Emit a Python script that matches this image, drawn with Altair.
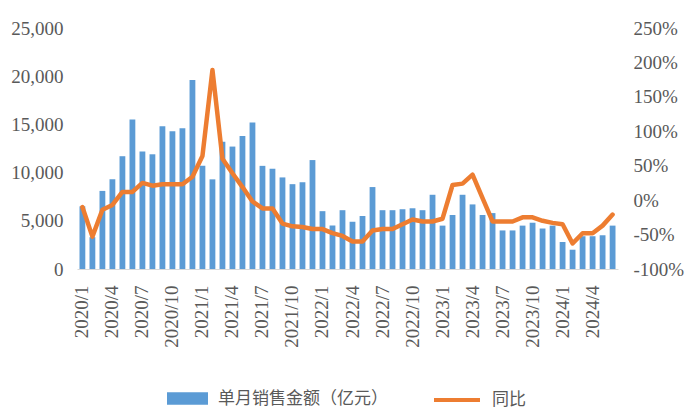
import altair as alt
import pandas as pd

months = [f"{y}/{m}" for y in range(2020, 2025) for m in range(1, 13)][:54]
sales = [6500, 3300, 8100, 9300, 11700, 15500, 12200, 11900, 14800, 14300, 14600, 19600,
         10700, 9300, 13200, 12700, 13800, 15200, 10700, 10400, 9500, 8800, 9000, 11300,
         6000, 4500, 6100, 4900, 5500, 8500, 6100, 6100, 6200, 6300, 6100, 7700,
         4500, 5600, 7700, 6700, 5600, 5800, 4000, 4000, 4500, 4800, 4200, 4500,
         2800, 2000, 3400, 3400, 3500, 4500]
yoy = [-10, -53, -14, -7, 12, 12, 25, 21, 23, 23, 23, 34,
       64, 189, 60, 39, 19, -2, -12, -12, -34, -38, -39, -42,
       -42, -48, -52, -60, -60, -44, -42, -42, -35, -28, -31, -31,
       -27, 22, 24, 37, 3, -31, -31, -31, -25, -25, -30, -33,
       -35, -63, -48, -48, -37, -21]
tick_months = months[::3]
left_ticks = [0, 5000, 10000, 15000, 20000, 25000]
right_ticks = [-100, -50, 0, 50, 100, 150, 200, 250]
bar_name = "单月销售金额（亿元）"
line_name = "同比"

df = pd.DataFrame({"month": months, "sales": sales, "yoy": yoy})
df["s1"] = bar_name
df["s2"] = line_name

FONT_NUM = "Times New Roman, Liberation Serif, serif"
FONT_CJK = "Noto Sans CJK SC"
GRAY = "#595959"
BLUE = "#5B9BD5"
ORANGE = "#ED7D31"

x = alt.X(
    "month:O", sort=months,
    scale=alt.Scale(paddingInner=0.42, paddingOuter=0.25),
    axis=alt.Axis(values=tick_months, labelAngle=270, labelFont=FONT_NUM, labelFontSize=19,
                  labelColor=GRAY, labelPadding=16, ticks=False, tickSize=0,
                  domainColor="#D9D9D9", domainWidth=1, title=None, labelOverlap=False, grid=False),
)

bars = alt.Chart(df).mark_bar(opacity=1, strokeWidth=0).encode(
    x=x,
    y=alt.Y("sales:Q", scale=alt.Scale(domain=[0, 25000], nice=False),
            axis=alt.Axis(values=left_ticks, labelExpr="format(datum.value, ',.0f')",
                          labelFont=FONT_NUM, labelFontSize=19,
                          labelColor=GRAY, labelPadding=14, ticks=False, tickSize=0,
                          domain=False, grid=False, title=None)),
    fill=alt.Fill("s1:N", scale=alt.Scale(domain=[bar_name], range=[BLUE]),
                  legend=alt.Legend(title=None, orient="none", legendX=90, legendY=350,
                                    symbolType="M-1,-0.3H1V0.3H-1Z", symbolSize=1681,
                                    symbolStrokeWidth=0, symbolOpacity=1, labelLimit=400,
                                    labelFont=FONT_CJK, labelFontSize=17, labelColor=GRAY,
                                    labelOffset=10)),
)

line = alt.Chart(df).mark_line(strokeWidth=4.5, strokeJoin="round", strokeCap="round").encode(
    x=x,
    y=alt.Y("yoy:Q", scale=alt.Scale(domain=[-100, 250], nice=False),
            axis=alt.Axis(orient="right", values=right_ticks, labelExpr="datum.value + '%'",
                          labelFont=FONT_NUM, labelFontSize=19, labelColor=GRAY, labelPadding=15,
                          ticks=False, tickSize=0, domain=False, grid=False, title=None)),
    stroke=alt.Stroke("s2:N", scale=alt.Scale(domain=[line_name], range=[ORANGE]),
                      legend=alt.Legend(title=None, orient="none", legendX=355, legendY=347,
                                        symbolType="stroke", symbolSize=2116, symbolStrokeWidth=4,
                                        labelLimit=200,
                                        labelFont=FONT_CJK, labelFontSize=17, labelColor=GRAY,
                                        labelOffset=10)),
)

chart = alt.layer(bars, line).resolve_scale(
    y="independent"
).properties(
    width=541, height=241,
    padding={"left": 77, "top": 28, "right": 75, "bottom": 145},
    autosize=alt.AutoSizeParams(type="none"),
    background="white",
).configure_view(stroke=None)

chart.save("out.html", embed_options={"renderer": "svg", "actions": False})
